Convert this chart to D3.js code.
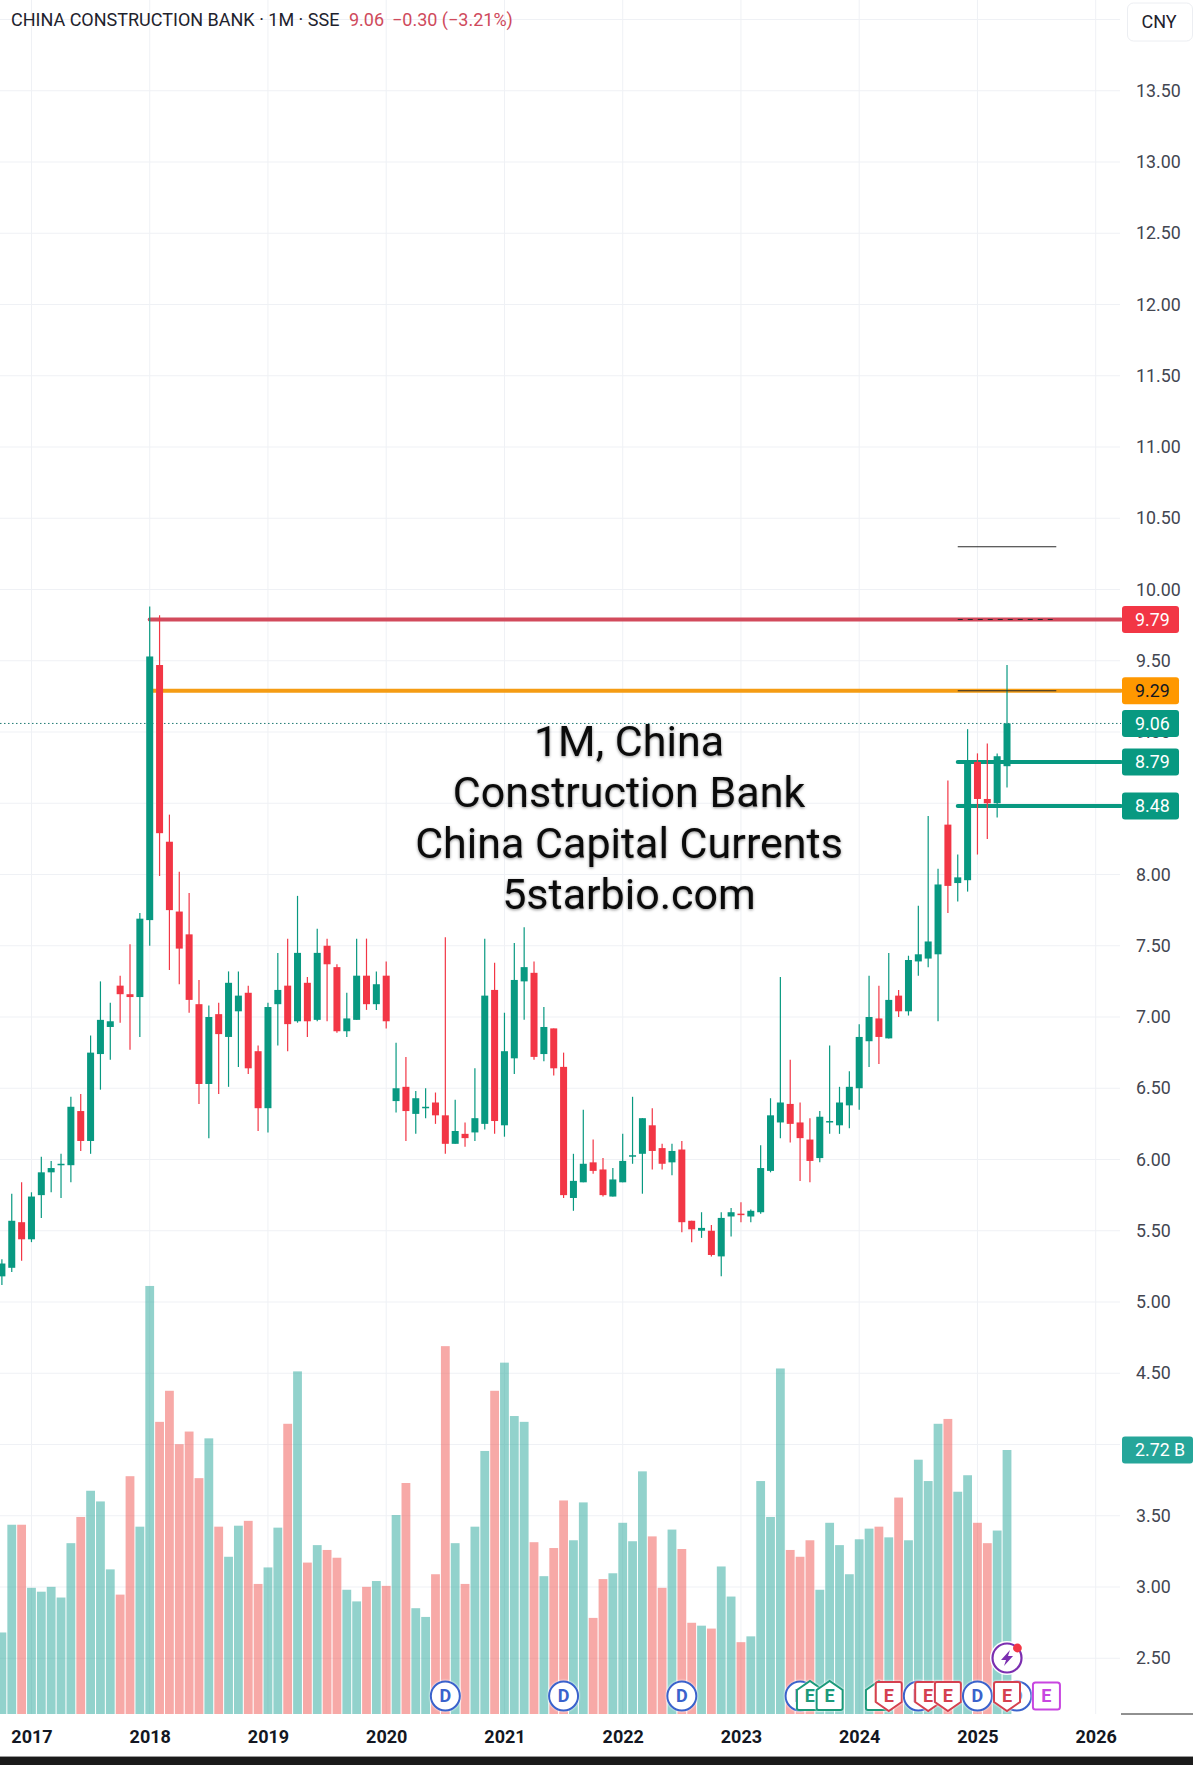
<!DOCTYPE html>
<html>
<head>
<meta charset="utf-8">
<script src="https://d3js.org/d3.v7.min.js"></script>
<style>
  body { margin: 0; background: #fff; }
  svg { display: block; font-family: Roboto, sans-serif; }
</style>
</head>
<body>
<script>
// 1. data, one value per month from 2016-10 to 2025-04
const opens = [5.18,5.24,5.56,
  5.44,5.75,5.91,5.96,5.96,6.34,6.13,6.74,6.93,7.22,7.16,7.14,
  7.68,9.47,8.23,7.74,7.58,7.09,6.53,7.02,6.86,7.04,7.17,6.76,
  6.36,7.09,7.22,6.97,7.24,6.98,7.50,7.35,6.90,6.98,7.29,7.09,
  7.29,6.41,6.51,6.32,6.36,6.40,6.31,6.11,6.18,6.19,6.25,7.19,
  6.24,6.71,7.25,7.31,6.74,6.92,6.65,5.73,5.84,5.98,5.93,5.74,
  5.84,6.02,6.04,6.24,6.08,5.98,6.07,5.57,5.50,5.50,5.32,5.60,
  5.62,5.60,5.63,5.92,6.26,6.39,6.26,6.14,6.01,6.26,6.24,6.38,
  6.50,6.83,6.99,6.85,7.15,7.04,7.39,7.41,7.44,8.35,7.94,7.96,
  8.79,8.53,8.50,8.76];
const closes = [5.27,5.57,5.44,
  5.74,5.91,5.94,5.97,6.37,6.13,6.75,6.98,6.97,7.16,7.14,7.69,
  9.53,8.29,7.75,7.48,7.12,6.53,7.00,6.88,7.24,7.15,6.64,6.36,
  7.07,7.19,6.95,7.45,6.97,7.45,7.37,6.90,6.99,7.29,7.09,7.23,
  6.97,6.50,6.34,6.43,6.37,6.31,6.11,6.20,6.15,6.29,7.15,6.27,
  6.76,7.26,7.35,6.72,6.93,6.64,5.75,5.85,5.97,5.92,5.75,5.86,
  5.99,6.03,6.29,6.06,5.97,6.06,5.56,5.51,5.52,5.33,5.59,5.63,
  5.61,5.64,5.94,6.31,6.40,6.25,6.15,5.99,6.30,6.27,6.40,6.51,
  6.86,7.00,6.86,7.12,7.04,7.40,7.44,7.53,7.93,7.92,7.98,8.79,
  8.53,8.50,8.83,9.06];
const highs = [5.30,5.76,5.84,
  5.77,6.02,5.99,6.04,6.44,6.46,6.87,7.25,7.10,7.29,7.51,7.73,
  9.88,9.82,8.42,8.02,7.87,7.26,7.08,7.10,7.32,7.32,7.22,6.80,
  7.10,7.45,7.55,7.85,7.28,7.62,7.55,7.37,7.17,7.55,7.55,7.32,
  7.39,6.82,6.72,6.48,6.50,6.47,7.56,6.42,6.26,6.64,7.55,7.38,
  7.03,7.52,7.63,7.39,7.07,6.92,6.75,6.04,6.35,6.14,6.01,5.94,
  6.18,6.44,6.29,6.36,6.11,6.11,6.13,5.57,5.63,5.54,5.63,5.66,
  5.70,5.65,6.10,6.43,7.28,6.70,6.40,6.29,6.34,6.80,6.51,6.62,
  6.95,7.29,7.22,7.45,7.19,7.43,7.78,8.41,8.04,8.66,8.14,9.02,
  8.85,8.92,8.85,9.47];
const lows = [5.12,5.21,5.29,
  5.42,5.59,5.77,5.73,5.84,6.06,6.04,6.49,6.70,6.96,6.77,6.86,
  7.50,7.99,7.33,7.23,7.03,6.39,6.15,6.46,6.51,6.65,6.60,6.20,
  6.19,6.80,6.76,6.96,6.86,6.97,6.97,6.89,6.86,6.98,7.05,7.05,
  6.92,6.33,6.13,6.18,6.29,6.25,6.04,6.11,6.09,6.13,6.21,6.18,
  6.16,6.60,6.98,6.70,6.69,6.59,5.73,5.64,5.84,5.90,5.74,5.74,
  5.84,5.97,5.76,5.93,5.93,5.89,5.49,5.42,5.45,5.32,5.18,5.46,
  5.56,5.56,5.62,5.91,6.15,6.12,5.85,5.84,5.98,6.18,6.18,6.22,
  6.35,6.65,6.67,6.85,7.00,7.01,7.29,7.35,6.97,7.73,7.81,7.88,
  8.14,8.25,8.40,8.61];
// volume in billions
const volumes = [0.84,1.95,1.95,
  1.30,1.26,1.31,1.20,1.76,2.03,2.30,2.19,1.49,1.23,2.45,1.93,
  4.41,3.01,3.33,2.78,2.91,2.43,2.84,1.93,1.62,1.94,1.99,1.34,
  1.51,1.92,2.99,3.53,1.56,1.74,1.69,1.61,1.28,1.16,1.31,1.37,
  1.32,2.05,2.38,1.09,1.00,1.44,3.79,1.76,1.34,1.93,2.71,3.33,
  3.62,3.07,3.01,1.77,1.42,1.71,2.20,1.79,2.18,0.99,1.39,1.45,
  1.97,1.78,2.50,1.83,1.30,1.90,1.70,0.94,0.91,0.88,1.52,1.21,
  0.74,0.80,2.40,2.03,3.56,1.69,1.62,1.79,1.28,1.97,1.74,1.44,
  1.80,1.91,1.93,1.82,2.23,1.79,2.62,2.40,2.99,3.04,2.29,2.46,
  1.97,1.76,1.89,2.72];

const priceTicks = d3.range(2.5, 14.01, 0.5);
// these three labels sit behind the CNY box and the price tags
const hiddenTicks = [14, 8.5, 4];
const yearTicks = ['2017','2018','2019','2020','2021','2022','2023','2024','2025','2026'];

const hLineValues = [9.79, 9.29, 8.79, 8.48];
const hLineColors = ['#d24a5c', '#f59c13', '#089981', '#089981'];
const hLineStarts = ['2018-01', '2018-01', '2024-11', '2024-11'];
const hLineLabels = ['#f23645', '#ff9800', '#089981', '#089981'];
const thinValues = [10.30, 9.79, 9.29];
const thinDash = [null, '5 5', null];

const eventMonths = ['2020-07','2021-07','2022-07','2023-07','2023-08','2023-10','2024-03','2024-04',
  '2024-07','2024-08','2024-10','2025-01','2025-05','2025-04','2025-08'];
const eventKinds = ['D','D','D','D','up','up','up','down','D','down','down','D','D','down','next'];

const titleParts = ['CHINA CONSTRUCTION BANK · 1M · SSE', '9.06', '−0.30 (−3.21%)'];
const watermark = ['1M, China', 'Construction Bank', 'China Capital Currents', '5starbio.com'];

// 2. sizes and scales
const width = 1193, height = 1765;
const plotRight = 1121, baseY = 1714;
const up = '#089981', down = '#f23645';
const volUp = '#26a69a', volDown = '#ef5350';

const months = d3.utcMonth.range(new Date(Date.UTC(2016, 9, 1)), new Date(Date.UTC(2026, 1, 1)))
  .map(d3.utcFormat('%Y-%m'));
const x = d3.scalePoint().domain(months).range([1.9, 1095.7]);
const y = d3.scaleLinear().domain([7, 14]).range([1017, 19.5]);
const yVol = d3.scaleLinear().domain([0, 2.72]).range([baseY, 1450]);

const bars = opens.map((o, i) => ({
  month: months[i], open: o, close: closes[i], high: highs[i], low: lows[i], volume: volumes[i],
  rising: closes[i] >= o
}));

const svg = d3.select('body').append('svg')
  .attr('width', width)
  .attr('height', height);

svg.append('rect').attr('width', width).attr('height', height).attr('fill', '#fff');

// 3. grid
svg.append('g').selectAll('line')
  .data(priceTicks)
  .join('line')
  .attr('x1', 0)
  .attr('x2', plotRight - 1)
  .attr('y1', d => y(d))
  .attr('y2', d => y(d))
  .attr('stroke', '#eff1f5');

svg.append('g').selectAll('line')
  .data(yearTicks)
  .join('line')
  .attr('x1', d => x(d + '-01'))
  .attr('x2', d => x(d + '-01'))
  .attr('y1', 0)
  .attr('y2', baseY)
  .attr('stroke', '#eff1f5');

// 4. volume
svg.append('g').selectAll('rect')
  .data(bars)
  .join('rect')
  .attr('x', d => x(d.month) - 4.4)
  .attr('width', 8.8)
  .attr('y', d => yVol(d.volume))
  .attr('height', d => baseY - yVol(d.volume))
  .attr('fill', d => d.rising ? volUp : volDown)
  .attr('opacity', 0.5);

// 5. last price line and level lines
svg.append('line')
  .attr('x1', 0)
  .attr('x2', plotRight)
  .attr('y1', y(closes[closes.length - 1]))
  .attr('y2', y(closes[closes.length - 1]))
  .attr('stroke', '#1f7a72')
  .attr('stroke-dasharray', '1.5 2.5');

svg.append('g').selectAll('line')
  .data(hLineValues)
  .join('line')
  .attr('x1', (d, i) => x(hLineStarts[i]))
  .attr('x2', plotRight)
  .attr('y1', d => y(d))
  .attr('y2', d => y(d))
  .attr('stroke', (d, i) => hLineColors[i])
  .attr('stroke-width', 4)
  .attr('stroke-linecap', 'round');

// 6. candles
const candles = svg.append('g').selectAll('g')
  .data(bars)
  .join('g');

candles.append('line')
  .attr('x1', d => x(d.month))
  .attr('x2', d => x(d.month))
  .attr('y1', d => y(d.high))
  .attr('y2', d => y(d.low))
  .attr('stroke', d => d.rising ? up : down)
  .attr('stroke-width', 1.2);

candles.append('rect')
  .attr('x', d => x(d.month) - 3.5)
  .attr('width', 7)
  .attr('y', d => y(Math.max(d.open, d.close)))
  .attr('height', d => Math.max(1.5, Math.abs(y(d.open) - y(d.close))))
  .attr('fill', d => d.rising ? up : down);

// thin dark lines on top of the last candles
svg.append('g').selectAll('line')
  .data(thinValues)
  .join('line')
  .attr('x1', x('2024-11'))
  .attr('x2', x('2025-09'))
  .attr('y1', d => y(d))
  .attr('y2', d => y(d))
  .attr('stroke', '#2a2a2a')
  .attr('stroke-width', 1.1)
  .attr('stroke-dasharray', (d, i) => thinDash[i]);

// 7. axes
const yAxis = svg.append('g')
  .attr('transform', `translate(${plotRight + 2},0)`)
  .call(d3.axisRight(y)
    .tickValues(priceTicks.filter(d => !hiddenTicks.includes(d)))
    .tickSize(0)
    .tickPadding(13)
    .tickFormat(d3.format('.2f')));
yAxis.select('.domain').remove();
yAxis.selectAll('text').attr('font-size', 17.8).attr('fill', '#434651');
yAxis.attr('font-family', null);

const xAxis = svg.append('g')
  .attr('transform', `translate(0,${baseY})`)
  .call(d3.axisBottom(x)
    .tickValues(yearTicks.map(d => d + '-01'))
    .tickSize(0)
    .tickPadding(16)
    .tickFormat(d => d.slice(0, 4)));
xAxis.select('.domain').remove();
xAxis.selectAll('text').attr('font-size', 18).attr('font-weight', 700).attr('fill', '#131722');
xAxis.attr('font-family', null);

svg.append('line')
  .attr('x1', plotRight)
  .attr('x2', width)
  .attr('y1', baseY)
  .attr('y2', baseY)
  .attr('stroke', '#222');

// 8. event marks
const eventColor = { D: '#3a62cc', up: '#1b9a7a', down: '#d5404f', next: '#c846e0' };
const houseUp = 'M-13,-6 L0,-15 L13,-6 L13,12 Q13,14 11,14 L-11,14 Q-13,14 -13,12 Z';
const houseDown = 'M-13,-12 Q-13,-14 -11,-14 L11,-14 Q13,-14 13,-12 L13,6 L0,15 L-13,6 Z';
const roundBox = 'M-11,-13.5 L11,-13.5 Q13.5,-13.5 13.5,-11 L13.5,11 Q13.5,13.5 11,13.5 L-11,13.5 Q-13.5,13.5 -13.5,11 L-13.5,-11 Q-13.5,-13.5 -11,-13.5 Z';

const events = svg.append('g').selectAll('g')
  .data(eventMonths)
  .join('g')
  .attr('transform', d => `translate(${x(d)},1696)`);

events.each(function (d, i) {
  const kind = eventKinds[i];
  const g = d3.select(this);
  const shape = kind === 'D'
    ? g.append('circle').attr('r', 14.5)
    : g.append('path').attr('d', kind === 'up' ? houseUp : kind === 'down' ? houseDown : roundBox);
  shape.attr('fill', '#fff')
    .attr('stroke', eventColor[kind])
    .attr('stroke-width', 2)
    .style('filter', 'drop-shadow(0 0 1px #fff)');
  g.append('text')
    .attr('text-anchor', 'middle')
    .attr('dy', '0.36em')
    .attr('font-size', 18)
    .attr('font-weight', 700)
    .attr('fill', eventColor[kind])
    .text(kind === 'D' ? 'D' : 'E');
});

// lightning badge over the last candle
const badge = svg.append('g').attr('transform', `translate(${x('2025-04')},1658)`);
badge.append('circle').attr('r', 17).attr('fill', '#fff');
badge.append('circle').attr('r', 14.5).attr('fill', '#fff').attr('stroke', '#7b2fb0').attr('stroke-width', 2.2);
badge.append('path').attr('d', 'M3,-8 L-6,2 L-1,2 L-3,8 L6,-2 L1,-2 Z').attr('fill', '#7b2fb0');
badge.append('circle').attr('cx', 10.4).attr('cy', -10).attr('r', 4.4).attr('fill', '#f23645');

// 9. title
const title = svg.append('g').attr('font-size', 18);
title.append('text').attr('x', 11).attr('y', 26).attr('fill', '#1e222d').text(titleParts[0]);
title.append('text').attr('x', 349).attr('y', 26).attr('fill', '#cf4a5c').text(titleParts[1]);
title.append('text').attr('x', 392).attr('y', 26).attr('fill', '#cf4a5c').text(titleParts[2]);

svg.append('rect')
  .attr('x', 1127.5)
  .attr('y', 3)
  .attr('width', 65)
  .attr('height', 38)
  .attr('rx', 6)
  .attr('fill', '#fff')
  .attr('stroke', '#eceef2');
svg.append('text')
  .attr('x', 1159)
  .attr('y', 28)
  .attr('text-anchor', 'middle')
  .attr('font-size', 18)
  .attr('fill', '#1e222d')
  .text('CNY');

// 10. watermark text
svg.append('g').selectAll('text')
  .data(watermark)
  .join('text')
  .attr('x', 629)
  .attr('y', (d, i) => 756 + i * 51)
  .attr('text-anchor', 'middle')
  .attr('font-size', 43)
  .attr('fill', '#0b0b0b')
  .style('filter', 'drop-shadow(0 1px 1.5px rgba(0,0,0,0.45))')
  .text(d => d);

// 11. price labels on the axis
function priceLabel(cy, text, fill, textFill, right) {
  svg.append('rect')
    .attr('x', 1122)
    .attr('y', cy - 13.5)
    .attr('width', right - 1122)
    .attr('height', 27)
    .attr('rx', 3)
    .attr('fill', fill);
  svg.append('text')
    .attr('x', 1135)
    .attr('y', cy + 6.3)
    .attr('font-size', 17.8)
    .attr('fill', textFill)
    .text(text);
}

hLineValues.forEach((v, i) => {
  priceLabel(y(v), v.toFixed(2), hLineLabels[i], i === 1 ? '#131722' : '#fff', 1179);
});
priceLabel(y(closes[closes.length - 1]), closes[closes.length - 1].toFixed(2), up, '#fff', 1179);
priceLabel(yVol(volumes[volumes.length - 1]), volumes[volumes.length - 1].toFixed(2) + ' B', volUp, '#fff', 1193);

// 12. dark bar at the bottom of the screenshot
svg.append('rect').attr('x', 0).attr('y', 1757).attr('width', width).attr('height', 8).attr('fill', '#1b1b1b');
svg.append('line').attr('x1', 0).attr('x2', width).attr('y1', 1756.5).attr('y2', 1756.5).attr('stroke', '#9a9a9a');
</script>
</body>
</html>
